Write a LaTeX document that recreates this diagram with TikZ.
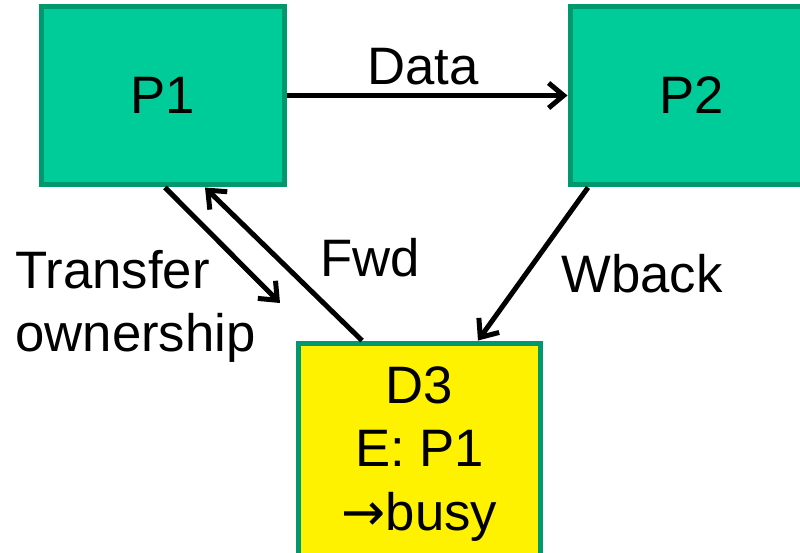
\documentclass[tikz,border=0pt]{standalone}
\usepackage{fontspec}
\setmainfont{Liberation Sans}
\newfontfamily\arrowfont{DejaVu Sans}
\usetikzlibrary{arrows.meta}

\definecolor{procfill}{HTML}{00CC99}
\definecolor{procedge}{HTML}{00996E}

\begin{document}
\begin{tikzpicture}[x=0.02cm, y=-0.02cm,
		every node/.style={font=\fontsize{30}{36}\selectfont},
		proc/.style={draw=procedge, line width=0.1cm, fill=procfill, minimum width=4.88cm, minimum height=3.58cm},
		dir/.style={draw=procedge, line width=0.1cm, fill=yellow, minimum width=4.86cm, minimum height=4.44cm, align=center},
		msg/.style={line width=0.1cm, -{Straight Barb[length=0.3cm, width=0.5cm]}},
		]
		\useasboundingbox (0,0) rectangle (800,553);
		\node[proc] (p1) at (163,95.5) {P1};
		\node[proc] (p2) at (692,95.5) {P2};
		\node[dir] (d3) at (419.5,454) {D3\\E: P1\\{\arrowfont\char"2192}busy};
		\coordinate (own) at (280,303);
		% messages
		\draw[msg] (p1.east) -- (p2.west);
		\draw[msg] ([xshift=0.04cm]p1.south) -- (own);
		\draw[msg] ([xshift=-1.15cm]d3.north) -- ([xshift=0.84cm]p1.south);
		\draw[msg] ([xshift=-2.08cm]p2.south) -- ([xshift=1.17cm]d3.north);
		% labels
		\node[anchor=base] (data) at (423,85) {Data};
		\node[anchor=base] (fwd) at (370,277) {Fwd};
		\node[anchor=base] (wback) at (642,293) {Wback};
		\node[anchor=base west, align=left, inner xsep=0pt] (xfer) at (15,352) {Transfer\\ownership};
	\end{tikzpicture}
\end{document}
